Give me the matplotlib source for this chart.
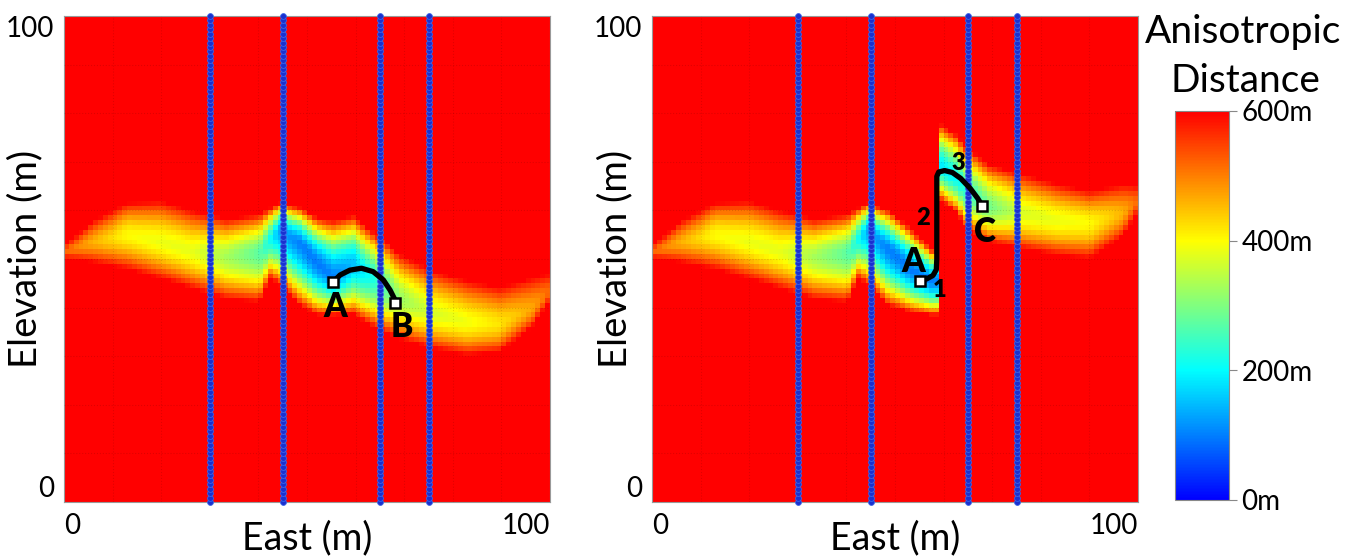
import numpy as np
import matplotlib.pyplot as plt
from matplotlib.colors import LinearSegmentedColormap

plt.rcParams['font.family'] = ['Lato', 'DejaVu Sans']

# wells (east positions) and their sample elevations
well_east = [30, 45, 65, 75]
well_elev = np.linspace(0, 100, 111)

# left panel: band (east, top edge, core, bottom edge, min distance)
left_x = [0, 6, 13, 20, 26.6, 33.5, 40.3, 42.4, 44.4, 48.6, 52, 55.4, 59.5, 64.3, 69.1, 76, 82.9, 89.7, 96.6, 100]
left_top = [52.8, 57.8, 61.6, 62, 59.9, 58.2, 59.2, 60.5, 61.6, 60.6, 58.5, 57.9, 58.9, 55.1, 51, 47.6, 45.5, 44.1, 46.2, 47]
left_core = [51.5, 53.5, 55, 53.5, 51.5, 50.5, 51.2, 54, 56, 53.3, 49.2, 46.3, 49, 45.7, 42, 38.8, 37, 36.6, 40, 43.5]
left_bot = [50.2, 49.3, 47.9, 45.9, 43.8, 41.7, 41.1, 46, 44.5, 40.4, 38.3, 38.3, 38.5, 35.6, 33.5, 31.5, 30.1, 30.8, 36.3, 41.5]
left_dmin = [520, 460, 400, 385, 380, 330, 270, 210, 130, 100, 95, 100, 150, 230, 320, 370, 390, 420, 470, 520]

# right panel: lower band (west of the cut) and upper band (east of the cut)
cut_east = 59
low_x = [0, 6, 13, 20, 26.6, 33.5, 40.3, 42.4, 44.4, 48.6, 53, 57.5, 59]
low_top = [52.8, 57.8, 61.6, 62, 59.9, 58.2, 59.2, 60.5, 61.6, 60, 56.5, 52, 51.5]
low_core = [51.5, 53.5, 55, 53.5, 51.5, 50.5, 51.2, 54, 56, 52, 48, 45.5, 45.5]
low_bot = [50.2, 49.3, 47.9, 45.9, 43.8, 41.7, 41.1, 46, 44.5, 40.4, 39, 38.3, 38.3]
low_dmin = [520, 460, 400, 385, 380, 330, 270, 210, 130, 100, 95, 100, 105]

up_x = [59, 62.7, 64.7, 69.5, 76.4, 83.3, 90.1, 97, 100]
up_top = [78, 75.7, 72.9, 69.5, 67.4, 65.4, 64, 65.4, 65]
up_core = [69.3, 66.6, 64.2, 60.8, 59.4, 58, 57.4, 59.4, 62]
up_bot = [62.3, 59.6, 56.1, 53.4, 52, 50.7, 50, 54.8, 59.6]
up_dmin = [180, 200, 230, 290, 370, 385, 400, 460, 520]

# paths
path_ab_x = [55.4, 56.8, 58.8, 61.2, 63.6, 65.7, 67.1, 68.1, 68.2]
path_ab_y = [45.3, 46.7, 47.7, 48.1, 47.4, 45.7, 43.6, 41.6, 41.0]
path_ac_x = [55.1, 56.5, 57.8, 58.5, 58.6, 58.6, 59.0, 60.2, 61.8, 63.5, 65.5, 67.0, 68.0]
path_ac_y = [45.5, 45.9, 46.6, 47.8, 50.0, 67.0, 67.9, 68.2, 67.8, 66.6, 64.5, 62.5, 60.9]

VMAX = 600
cells = np.arange(0.5, 100, 1.0)


def band_field(bx, btop, bcore, bbot, bdmin, p=1.6):
    xx, yy = np.meshgrid(cells, cells)
    top = np.interp(xx, bx, btop)
    core = np.interp(xx, bx, bcore)
    bot = np.interp(xx, bx, bbot)
    dmin = np.interp(xx, bx, bdmin)
    f = np.where(yy >= core, (yy - core) / (top - core), (core - yy) / (core - bot))
    f = np.clip(f, 0, 1)
    return np.clip(dmin + (VMAX - dmin) * f ** p, 0, VMAX)


left_field = band_field(left_x, left_top, left_core, left_bot, left_dmin)
xx = np.meshgrid(cells, cells)[0]
right_field = np.where(xx < cut_east,
                       band_field(low_x, low_top, low_core, low_bot, low_dmin),
                       band_field(up_x, up_top, up_core, up_bot, up_dmin))

cmap = LinearSegmentedColormap.from_list(
    'bcyr', [(0, (0, 0, 1)), (1 / 3, (0, 1, 1)), (2 / 3, (1, 1, 0)), (1, (1, 0, 0))])

fig = plt.figure(figsize=(13.59, 5.59), dpi=100)
W, H = 1359, 559
ax1 = fig.add_axes([64 / W, 1 - 502 / H, 486 / W, 486 / H])
ax2 = fig.add_axes([652 / W, 1 - 502 / H, 486 / W, 486 / H])
cax = fig.add_axes([1175 / W, 1 - 500 / H, 54 / W, 389 / H])


def setup(ax, field, ylab_x):
    im = ax.imshow(field, cmap=cmap, vmin=0, vmax=VMAX, origin='lower',
                   extent=[0, 100, 0, 100], interpolation='nearest', aspect='auto')
    ax.set_xlim(0, 100)
    ax.set_ylim(0, 100)
    ax.set_xticks([0, 100], ['0', '100'])
    ax.set_yticks([0, 100], ['0', '100'])
    ax.set_xticks(range(10, 100, 10), minor=True)
    ax.set_yticks(range(10, 100, 10), minor=True)
    ax.tick_params(which='both', length=0, labelsize=20)
    ax.tick_params(axis='x', pad=8)
    ax.tick_params(axis='y', pad=7)
    xl = ax.get_xticklabels()
    xl[0].set_ha('left')
    xl[1].set_ha('right')
    yl = ax.get_yticklabels()
    yl[0].set_va('bottom')
    yl[1].set_va('top')
    ax.grid(which='minor', color='k', alpha=0.12, ls=':', lw=0.8)
    ax.set_axisbelow(False)
    for s in ax.spines.values():
        s.set_color('#999999')
        s.set_linewidth(0.8)
    ax.set_xlabel('East (m)', fontsize=27)
    ax.set_ylabel('Elevation (m)', fontsize=27.5)
    ax.xaxis.set_label_coords(0.5, -0.074)
    ax.xaxis.label.set_va('center')
    ax.yaxis.set_label_coords(ylab_x, 0.5)
    ax.yaxis.label.set_va('center')
    for we in well_east:
        ax.plot([we] * len(well_elev), well_elev, 'o', ms=4.2, mfc='#1a30d0',
                mec='#3a66e8', mew=0.6, clip_on=False, zorder=3)
    return im


im = setup(ax1, left_field, -0.08)
setup(ax2, right_field, -0.076)

lab = dict(fontsize=24, fontweight='heavy', ha='center', va='center', zorder=6)
num = dict(fontsize=17, fontweight='heavy', ha='center', va='center', zorder=6)

# left path A -> B
ax1.plot(path_ab_x, path_ab_y, color='k', lw=3.8, solid_capstyle='round', zorder=4)
ax1.plot([path_ab_x[0], path_ab_x[-1]], [path_ab_y[0], path_ab_y[-1]], 's', ms=7.5,
         mfc='white', mec='k', mew=1.8, zorder=5)
ax1.text(55.8, 40.2, 'A', **lab)
ax1.text(69.5, 36.1, 'B', **lab)

# right path A -> 1 -> 2 -> 3 -> C
ax2.plot(path_ac_x, path_ac_y, color='k', lw=3.8, solid_capstyle='round',
         solid_joinstyle='round', zorder=4)
ax2.plot([path_ac_x[0], path_ac_x[-1]], [path_ac_y[0], path_ac_y[-1]], 's', ms=7.5,
         mfc='white', mec='k', mew=1.8, zorder=5)
ax2.text(53.8, 49.4, 'A', **lab)
ax2.text(68.5, 55.6, 'C', **lab)
ax2.text(59.1, 43.6, '1', **num)
ax2.text(55.8, 58.4, '2', **num)
ax2.text(63.0, 69.7, '3', **num)

cb = fig.colorbar(im, cax=cax, ticks=[0, 200, 400, 600])
cb.ax.set_yticklabels(['0m', '200m', '400m', '600m'])
cb.ax.tick_params(length=6, width=0.8, color='#888888', labelsize=20, pad=3)
cb.outline.set_edgecolor('#888888')
cb.outline.set_linewidth(0.8)

fig.text(1243 / W, 1 - 43 / H, 'Anisotropic', fontsize=28, ha='center', va='baseline')
fig.text(1245 / W, 1 - 92 / H, 'Distance', fontsize=28, ha='center', va='baseline')

fig.savefig('out.png', dpi=100)
